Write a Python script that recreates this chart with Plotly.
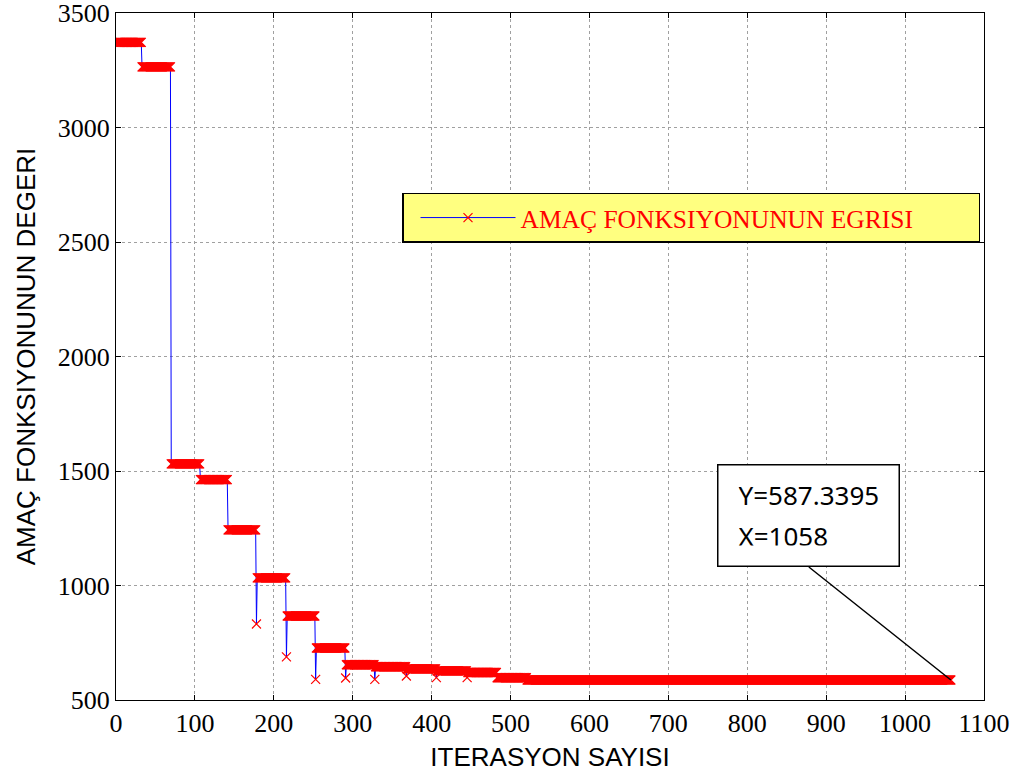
import plotly.graph_objects as go

# ---- data ----
n_iter = 1058
step_start = [1, 33, 70, 107, 142, 178, 216, 253, 291, 328, 368, 406, 445, 483, 521]
step_value = [3372, 3265, 1531, 1462, 1243, 1033, 867, 727, 654, 645, 636, 627, 620, 597, 587.3395]
dip_iter = [178, 216, 253, 291, 328, 368, 406, 445]
dip_value = [832, 688, 590, 596, 590, 605, 598, 598]

x_ticks = [0, 100, 200, 300, 400, 500, 600, 700, 800, 900, 1000, 1100]
y_ticks = [500, 1000, 1500, 2000, 2500, 3000, 3500]

legend_name = "AMAÇ FONKSIYONUNUN EGRISI"
x_title = "ITERASYON SAYISI"
y_title = "AMAÇ FONKSIYONUNUN DEGERI"
tip_x = 1058
tip_y = 587.3395

# build the per-iteration series from the plateaus
iters = list(range(1, n_iter + 1))
values = []
for it in iters:
    v = step_value[0]
    for s, sv in zip(step_start, step_value):
        if it >= s:
            v = sv
    values.append(v)
for di, dv in zip(dip_iter, dip_value):
    values[di - 1] = dv

fig = go.Figure()
fig.add_trace(go.Scatter(
    x=iters, y=values, mode="lines+markers", name=legend_name,
    line=dict(color="#0000ff", width=1),
    marker=dict(symbol="x-thin", size=9, color="#ff0000",
                line=dict(color="#ff0000", width=1.2)),
    hoverinfo="x+y",
))

serif = "Liberation Serif, Times New Roman, serif"
sans = "Liberation Sans, Arial, sans-serif"

fig.update_layout(
    width=1015, height=776,
    margin=dict(l=116, r=31, t=13, b=76),
    paper_bgcolor="white", plot_bgcolor="white",
    showlegend=True,
    legend=dict(
        orientation="h",
        x=0.3295, y=0.738, xanchor="left", yanchor="top",
        bgcolor="#ffff80", bordercolor="black", borderwidth=1.5,
        font=dict(family=serif, size=25.5, color="#ff0000"),
        itemwidth=95, entrywidth=453, indentation=12,
    ),
    xaxis=dict(
        range=[0, 1100], tickvals=x_ticks, automargin=False,
        ticklabeloverflow="allow",
        showgrid=True, gridcolor="#a0a0a0", griddash="dot", gridwidth=1,
        showline=True, linecolor="black", linewidth=1, mirror="ticks",
        ticks="inside", ticklen=5, tickcolor="black",
        tickfont=dict(family=serif, size=26, color="black"),
        zeroline=False,
        title=dict(text=x_title, font=dict(family=sans, size=26, color="black"), standoff=10),
    ),
    yaxis=dict(
        range=[500, 3500], tickvals=y_ticks, automargin=False,
        ticklabeloverflow="allow",
        showgrid=True, gridcolor="#a0a0a0", griddash="dot", gridwidth=1,
        showline=True, linecolor="black", linewidth=1, mirror="ticks",
        ticks="inside", ticklen=5, tickcolor="black",
        tickfont=dict(family=serif, size=26, color="black"),
        zeroline=False,
        title=dict(text=y_title, font=dict(family=sans, size=26, color="black"), standoff=14),
    ),
)

fig.add_annotation(
    x=tip_x, y=tip_y, xref="x", yref="y",
    text=('<span style="font-size:26px">Y=' + str(tip_y) + '</span><br>'
          '<span style="font-size:26px">X=' + str(tip_x) + '</span>'),
    showarrow=True, arrowhead=0, arrowwidth=1.5, arrowcolor="black",
    ax=-142, ay=-113, xanchor="center", yanchor="bottom",
    align="left", valign="middle",
    width=140, height=60, borderpad=20,
    bgcolor="white", bordercolor="black", borderwidth=1.5,
    font=dict(family="Noto Sans, Open Sans, sans-serif", size=32, color="black"),
)

fig.write_html("out.html",
               config={"displayModeBar": False},
               post_script="document.body.style.margin='0';document.body.style.overflow='hidden';")
